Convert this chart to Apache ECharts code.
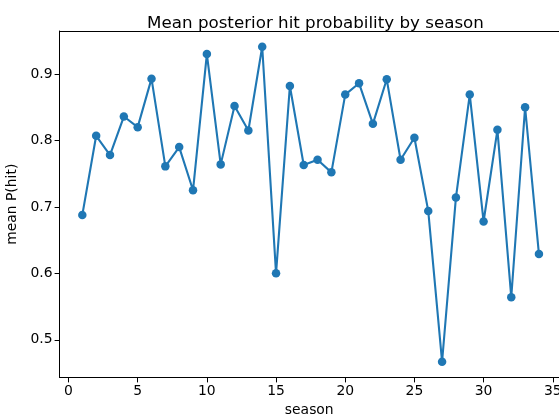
<!DOCTYPE html>
<html>
<head>
<meta charset="utf-8">
<script src="https://cdn.jsdelivr.net/npm/echarts@6/dist/echarts.min.js"></script>
<style>
  html, body { margin: 0; padding: 0; background: #fff; }
  #chart { width: 559px; height: 415px; }
</style>
</head>
<body>
<div id="chart"></div>
<script>
// Mean posterior hit probability per season
const seasons = [1, 2, 3, 4, 5, 6, 7, 8, 9, 10, 11, 12, 13, 14, 15, 16, 17,
                 18, 19, 20, 21, 22, 23, 24, 25, 26, 27, 28, 29, 30, 31, 32, 33, 34];
const meanHit = [0.688, 0.807, 0.778, 0.836, 0.820, 0.893, 0.761, 0.790, 0.725, 0.930,
                 0.764, 0.852, 0.815, 0.941, 0.600, 0.882, 0.763, 0.771, 0.752, 0.869,
                 0.886, 0.825, 0.892, 0.771, 0.804, 0.694, 0.467, 0.714, 0.869, 0.678,
                 0.816, 0.564, 0.850, 0.629];
const xTicks = [0, 5, 10, 15, 20, 25, 30, 35];
const yTicks = [0.5, 0.6, 0.7, 0.8, 0.9];

const font = 'DejaVu Sans';
const ink = '#000';
const lineColor = '#1f77b4';

const chart = echarts.init(document.getElementById('chart'), null, { renderer: 'canvas' });

const points = seasons.map((s, i) => [s, meanHit[i]]);

chart.setOption({
  animation: false,
  backgroundColor: '#fff',
  title: {
    text: 'Mean posterior hit probability by season',
    left: 310.5,
    top: 10,
    textAlign: 'center',
    textStyle: { fontFamily: font, fontSize: 16.7, fontWeight: 'normal', color: ink }
  },
  grid: {
    left: 59.5, right: 0, top: 31, bottom: 37.5,
    containLabel: false,
    outerBoundsMode: 'none'
  },
  xAxis: [{
    type: 'value',
    min: -0.65,
    max: 35.45,
    name: 'season',
    nameLocation: 'middle',
    nameGap: 26,
    nameTextStyle: { fontFamily: font, fontSize: 13.9, color: ink },
    splitLine: { show: false },
    axisLine: { show: true, onZero: false, lineStyle: { color: ink, width: 1 } },
    axisTick: { show: true, inside: false, length: 4.9, customValues: xTicks, lineStyle: { color: ink, width: 1 } },
    axisLabel: { customValues: xTicks, margin: 7, fontFamily: font, fontSize: 13.9, color: ink }
  }, {
    // top frame line
    type: 'value',
    position: 'top',
    min: -0.65,
    max: 35.45,
    splitLine: { show: false },
    axisLine: { show: true, onZero: false, lineStyle: { color: ink, width: 1 } },
    axisTick: { show: false },
    axisLabel: { show: false }
  }],
  yAxis: {
    type: 'value',
    min: 0.4433,
    max: 0.9647,
    name: 'mean P(hit)',
    nameLocation: 'middle',
    nameGap: 35,
    nameTextStyle: { fontFamily: font, fontSize: 13.9, color: ink },
    splitLine: { show: false },
    axisLine: { show: true, onZero: false, lineStyle: { color: ink, width: 1 } },
    axisTick: { show: true, inside: false, length: 4.9, customValues: yTicks, lineStyle: { color: ink, width: 1 } },
    axisLabel: {
      customValues: yTicks,
      margin: 7,
      fontFamily: font, fontSize: 13.9, color: ink,
      formatter: v => v.toFixed(1)
    }
  },
  series: [{
    type: 'line',
    xAxisIndex: 0,
    data: points,
    symbol: 'circle',
    symbolSize: 8.5,
    showSymbol: true,
    lineStyle: { color: lineColor, width: 2.1 },
    itemStyle: { color: lineColor, borderWidth: 0 },
    clip: false
  }]
});
</script>
</body>
</html>
